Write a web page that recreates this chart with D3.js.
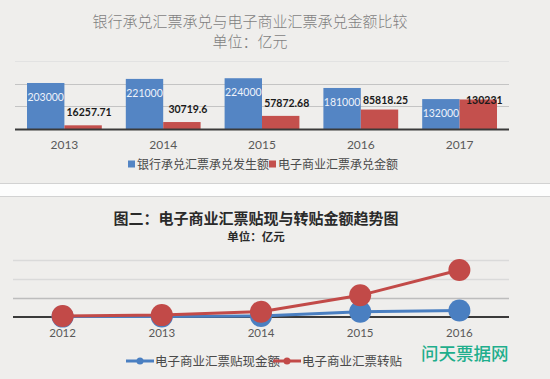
<!DOCTYPE html>
<html><head><meta charset="utf-8">
<script src="https://cdn.jsdelivr.net/npm/d3@7"></script>
<style>
body{margin:0;padding:0;background:#fff;}
svg{display:block;}
text{font-family:"Noto Sans CJK SC","Noto Sans",sans-serif;}
.num{font-family:Lato,"Open Sans",sans-serif;}
</style></head>
<body>
<svg id="c" width="550" height="379"></svg>
<script>
// ---- Chart 1 data ----
const years1 = ["2013","2014","2015","2016","2017"];
const bankAccept = [203000, 221000, 224000, 181000, 132000];
const ecdsAccept = [16257.71, 30719.6, 57872.68, 85818.25, 130231];
const bankAcceptLabels = ["203000","221000","224000","181000","132000"];
const ecdsAcceptLabels = ["16257.71","30719.6","57872.68","85818.25","130231"];
const series1 = ["银行承兑汇票承兑发生额","电子商业汇票承兑金额"];
const ticks1 = [0, 100000, 200000, 300000];

// ---- Chart 2 data ----
const years2 = ["2012","2013","2014","2015","2016"];
const discount = [2000, 3000, 5000, 28000, 34000];
const rediscount = [5000, 10000, 28000, 114000, 247000];
const series2 = ["电子商业汇票贴现金额","电子商业汇票转贴"];
const ticks2 = [0, 100000, 200000, 300000];

const blueBar = "#5485c4", redBar = "#c4504d";
const blueLine = "#4a7fc1", redLine = "#c24a48";
const svg = d3.select("#c");

// backgrounds
svg.append("rect").attr("x",0).attr("y",0).attr("width",550).attr("height",183).attr("fill","#efeeec");
svg.append("rect").attr("x",0).attr("y",183).attr("width",550).attr("height",13).attr("fill","#fdfdfd");
svg.append("rect").attr("x",0).attr("y",196).attr("width",550).attr("height",183).attr("fill","#efeeec");
svg.append("line").attr("x1",0).attr("x2",550).attr("y1",183.5).attr("y2",183.5).attr("stroke","#d2d2d2");
svg.append("line").attr("x1",0).attr("x2",550).attr("y1",196.5).attr("y2",196.5).attr("stroke","#d2d2d2");

// ===== Chart 1 =====
const g1 = svg.append("g");
g1.append("text").attr("x",250).attr("y",27).attr("text-anchor","middle")
  .attr("font-size",15).attr("fill","#7f7f7f").attr("font-weight",300).text("银行承兑汇票承兑与电子商业汇票承兑金额比较");
g1.append("text").attr("x",250).attr("y",47).attr("text-anchor","middle")
  .attr("font-size",15).attr("fill","#7f7f7f").attr("font-weight",300).text("单位：亿元");

const x0 = d3.scaleBand().domain(years1).range([15,509]);
const x1 = d3.scaleBand().domain([0,1]).range([12, x0.bandwidth()-12]);
const y1 = d3.scaleLinear().domain([0,300000]).range([129,61]);

g1.selectAll(".grid").data(ticks1.slice(1)).enter().append("line")
  .attr("x1",15).attr("x2",509).attr("y1",d=>Math.round(y1(d))+0.5).attr("y2",d=>Math.round(y1(d))+0.5)
  .attr("stroke",(d,i)=> i===2 ? "#e2e2e2" : "#c4c4c4").attr("stroke-width",1);

g1.selectAll(".bb").data(bankAccept).enter().append("rect")
  .attr("x",(d,i)=>x0(years1[i])+x1(0)).attr("width",x1.bandwidth())
  .attr("y",d=>y1(d)).attr("height",d=>y1(0)-y1(d)).attr("fill",blueBar);
g1.selectAll(".rb").data(ecdsAccept).enter().append("rect")
  .attr("x",(d,i)=>x0(years1[i])+x1(1)).attr("width",x1.bandwidth())
  .attr("y",d=>y1(d)).attr("height",d=>y1(0)-y1(d)).attr("fill",redBar);

// baseline
g1.append("line").attr("x1",15).attr("x2",509).attr("y1",y1(0)+0.5).attr("y2",y1(0)+0.5)
  .attr("stroke","#3a3a3a").attr("stroke-width",2);

// labels
g1.selectAll(".bl").data(bankAccept).enter().append("text").attr("class","num")
  .attr("x",(d,i)=>x0(years1[i])+x1(0)+x1.bandwidth()/2).attr("y",d=>y1(d)+18)
  .attr("text-anchor","middle").attr("font-size",10.5).attr("fill","#eef2fa")
  .text((d,i)=>bankAcceptLabels[i]);
g1.selectAll(".rl").data(ecdsAccept).enter().append("text").attr("class","num")
  .attr("x",(d,i)=>x0(years1[i])+x1(1)+x1.bandwidth()/2+6).attr("y",d=>Math.max(y1(d)-13, y1(127000))+4)
  .attr("text-anchor","middle").attr("font-size",10.5).attr("font-weight",700).attr("fill","#1a1a1a")
  .text((d,i)=>ecdsAcceptLabels[i]);

const ax1 = d3.axisBottom(x0).tickSize(0).tickPadding(0);
const a1 = g1.append("g").attr("transform","translate(0,149)").call(ax1);
a1.select(".domain").remove();
a1.selectAll("text").attr("font-size",12).attr("fill","#595959").attr("class","num").attr("dy",0);

// legend 1
const lg1 = g1.append("g");
const leg1x = [128, 269];
[blueBar, redBar].forEach((c,i)=>{
  lg1.append("rect").attr("x",leg1x[i]).attr("y",160.5).attr("width",7).attr("height",7).attr("fill",c);
  lg1.append("text").attr("x",leg1x[i]+9).attr("y",168.5).attr("font-size",12).attr("fill","#4a4a4a").text(series1[i]);
});

// ===== Chart 2 =====
const g2 = svg.append("g");
g2.append("text").attr("x",256).attr("y",224).attr("text-anchor","middle")
  .attr("font-size",15).attr("font-weight",700).attr("fill","#2a2a2a").text("图二：电子商业汇票贴现与转贴金额趋势图");
g2.append("text").attr("x",256).attr("y",240.5).attr("text-anchor","middle")
  .attr("font-size",11.5).attr("font-weight",700).attr("fill","#2a2a2a").text("单位：亿元");

const xb = d3.scaleBand().domain(years2).range([13,509]);
const cx = d => xb(d) + xb.bandwidth()/2;
const y2 = d3.scaleLinear().domain([0,300000]).range([317,260]);

g2.selectAll(".grid2").data(ticks2.slice(1)).enter().append("line")
  .attr("x1",13).attr("x2",509).attr("y1",d=>Math.round(y2(d))+0.5).attr("y2",d=>Math.round(y2(d))+0.5)
  .attr("stroke",(d,i)=> i===0 ? "#bdbdbd" : "#dadada").attr("stroke-width",1.5);

g2.append("line").attr("x1",13).attr("x2",509).attr("y1",y2(0)).attr("y2",y2(0))
  .attr("stroke","#3a3a3a").attr("stroke-width",2);

const line2 = d3.line().x((d,i)=>cx(years2[i])).y(d=>y2(d));
[[discount, blueLine], [rediscount, redLine]].forEach(([arr,c])=>{
  g2.append("path").datum(arr).attr("d",line2).attr("fill","none").attr("stroke",c).attr("stroke-width",3);
  g2.selectAll(null).data(arr).enter().append("circle")
    .attr("cx",(d,i)=>cx(years2[i])).attr("cy",d=>y2(d)).attr("r",11).attr("fill",c);
});

const ax2 = d3.axisBottom(xb).tickSize(0).tickPadding(0);
const a2 = g2.append("g").attr("transform","translate(0,337)").call(ax2);
a2.select(".domain").remove();
a2.selectAll("text").attr("font-size",11.5).attr("fill","#595959").attr("class","num").attr("dy",0);

// legend 2
const leg2 = [[126,blueLine],[273,redLine]];
leg2.forEach(([lx,c],i)=>{
  g2.append("line").attr("x1",lx).attr("x2",lx+28).attr("y1",361).attr("y2",361).attr("stroke",c).attr("stroke-width",3);
  g2.append("circle").attr("cx",lx+14).attr("cy",361).attr("r",3.5).attr("fill",c);
  g2.append("text").attr("x",lx+29).attr("y",365.5).attr("font-size",12.5).attr("fill","#4a4a4a").text(series2[i]);
});

// watermark
svg.append("text").attr("x",421).attr("y",359.5).attr("font-size",17.5).attr("font-weight",500)
  .attr("fill","#1fae8c").text("问天票据网");
</script>
</body></html>
